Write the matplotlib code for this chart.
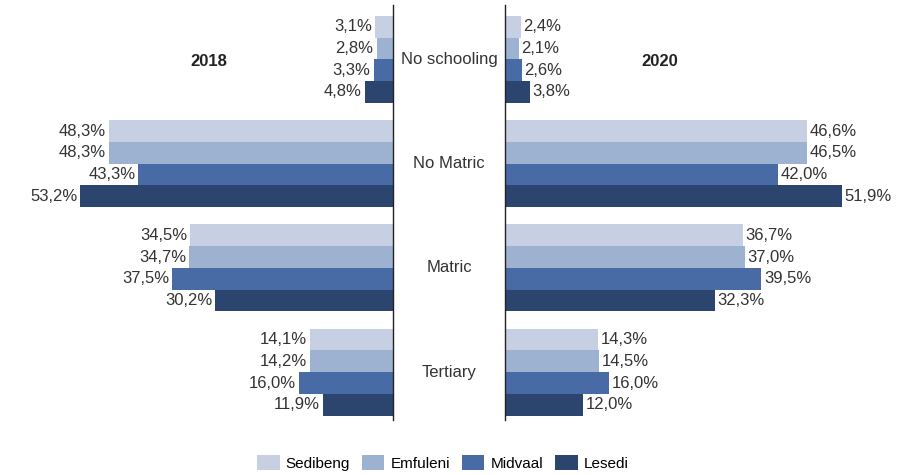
import matplotlib.pyplot as plt
from matplotlib.patches import Patch

plt.rcParams['font.family'] = ['Liberation Sans', 'DejaVu Sans']

categories = ["No schooling", "No Matric", "Matric", "Tertiary"]
regions = ["Sedibeng", "Emfuleni", "Midvaal", "Lesedi"]
colors = ["#C6D0E2", "#9DB2D0", "#486BA5", "#2C456E"]

# share of population per region, one list per category
vals_2018 = [
    [3.1, 2.8, 3.3, 4.8],
    [48.3, 48.3, 43.3, 53.2],
    [34.5, 34.7, 37.5, 30.2],
    [14.1, 14.2, 16.0, 11.9],
]
vals_2020 = [
    [2.4, 2.1, 2.6, 3.8],
    [46.6, 46.5, 42.0, 51.9],
    [36.7, 37.0, 39.5, 32.3],
    [14.3, 14.5, 16.0, 12.0],
]

W, H = 908, 475
fig = plt.figure(figsize=(W / 100, H / 100), dpi=100)

top, bottom = 5, 420
ax_l = fig.add_axes([0, 1 - bottom / H, 393 / W, (bottom - top) / H])
ax_m = fig.add_axes([393 / W, 1 - bottom / H, 112 / W, (bottom - top) / H])
ax_r = fig.add_axes([505 / W, 1 - bottom / H, 403 / W, (bottom - top) / H])

gap = 4.8
bar_h = 1.0


def ypos(g, j):
    return g * gap + j * bar_h + bar_h / 2


def fmt(v):
    return f"{v:.1f}%".replace(".", ",")


for g, cat in enumerate(categories):
    for j, reg in enumerate(regions):
        y = ypos(g, j)
        v = vals_2018[g][j]
        ax_l.barh(y, v, height=bar_h, color=colors[j])
        ax_l.text(v + 0.5, y, fmt(v), ha="right", va="center", fontsize=12,
                  color="#333333",
                  bbox=dict(facecolor="white", edgecolor="none", pad=0.2))
        v = vals_2020[g][j]
        ax_r.barh(y, v, height=bar_h, color=colors[j])
        ax_r.text(v + 0.4, y, fmt(v), ha="left", va="center", fontsize=12,
                  color="#333333",
                  bbox=dict(facecolor="white", edgecolor="none", pad=0.2))
    ax_m.text(0.5, ypos(g, 1.5), cat, ha="center", va="center", fontsize=12,
              color="#333333", transform=ax_m.get_yaxis_transform(),
              bbox=dict(facecolor="white", edgecolor="none", pad=0.5))

ylim = (3 * gap + 4 * bar_h + 0.2, -0.5)
for ax in (ax_l, ax_m, ax_r):
    ax.set_ylim(*ylim)
    ax.set_xticks([])
    ax.set_yticks([])
    for s in ax.spines.values():
        s.set_visible(False)
    ax.patch.set_alpha(0)

ax_l.set_xlim(393 / 5.88, 0)
ax_r.set_xlim(0, 403 / 6.49)
ax_l.spines["right"].set_visible(True)
ax_r.spines["left"].set_visible(True)
for s in (ax_l.spines["right"], ax_r.spines["left"]):
    s.set_color("#222222")
    s.set_linewidth(1.0)

fig.text(209 / W, 1 - 62 / H, "2018", ha="center", va="center",
         fontsize=12, fontweight="bold", color="#222222")
fig.text(660 / W, 1 - 62 / H, "2020", ha="center", va="center",
         fontsize=12, fontweight="bold", color="#222222")

handles = [Patch(facecolor=c, edgecolor="none") for c in colors]
fig.legend(handles, regions, loc="center", bbox_to_anchor=(443 / W, 1 - 463 / H),
           ncol=4, frameon=False, fontsize=11, handlelength=1.45, handleheight=1.1,
           columnspacing=0.8, handletextpad=0.4)

fig.savefig("out.png", dpi=100)
